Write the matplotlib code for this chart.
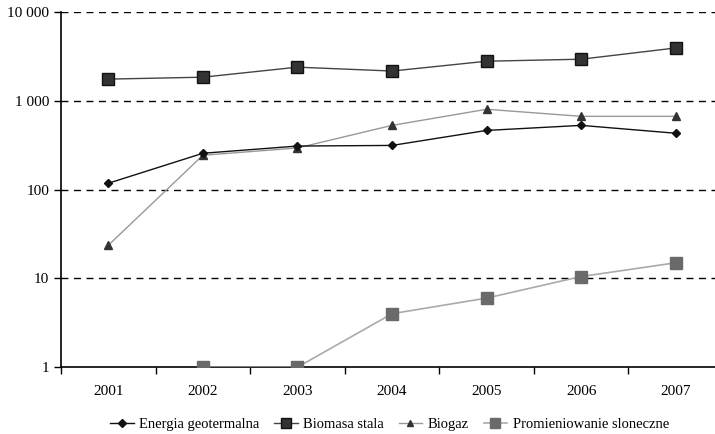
import numpy as np
import matplotlib.pyplot as plt
from matplotlib.ticker import FixedLocator, NullLocator

years = ['2001', '2002', '2003', '2004', '2005', '2006', '2007']
geotermalna = [118, 257, 310, 315, 465, 530, 432]
biomasa = [1760, 1850, 2400, 2170, 2800, 2950, 3950]
biogaz = [23.6, 244, 295, 530, 805, 670, 670]
slonce_lata = ['2002', '2003', '2004', '2005', '2006', '2007']
slonce = [1, 1, 4, 6, 10.5, 15]

ytick_vals = [1, 10, 100, 1000, 10000]
ytick_labels = ['1', '10', '100', '1 000', '10 000']

plt.rcParams['font.family'] = ['Liberation Serif', 'DejaVu Serif']

fig = plt.figure(figsize=(7.15, 4.34), dpi=100)
ax = fig.add_axes([0.0853, 0.154, 0.926, 0.818])

x = np.arange(1, len(years) + 1)
xs = np.array([years.index(y) + 1 for y in slonce_lata])

ax.plot(x, geotermalna, color='#111111', lw=1.0, marker='D', ms=4.5,
        mfc='#111111', mec='#111111', label='Energia geotermalna', zorder=4)
ax.plot(x, biomasa, color='#444444', lw=1.0, marker='s', ms=9,
        mfc='#333333', mec='#111111', label='Biomasa stala', zorder=3)
ax.plot(x, biogaz, color='#999999', lw=1.0, marker='^', ms=5.5,
        mfc='#333333', mec='#333333', label='Biogaz', zorder=3)
ax.plot(xs, slonce, color='#aaaaaa', lw=1.2, marker='s', ms=9,
        mfc='#6a6a6a', mec='#6a6a6a', label='Promieniowanie sloneczne', zorder=3)

ax.set_yscale('log')
ax.set_ylim(1, 10000)
ax.set_xlim(0.5, 7.5)
ax.yaxis.set_major_locator(FixedLocator(ytick_vals))
ax.yaxis.set_minor_locator(NullLocator())
ax.set_yticklabels(ytick_labels)
ax.set_xticks(x)
ax.set_xticklabels(years)
ax.xaxis.set_minor_locator(FixedLocator(np.arange(0.5, 8, 1)))
ax.tick_params(axis='x', which='major', length=0, pad=13, labelsize=11)
ax.tick_params(axis='x', which='minor', length=5, width=1)
ax.tick_params(axis='y', length=5, width=1, labelsize=11)

for v in ytick_vals[1:]:
    ax.axhline(v, color='black', lw=1.0, ls=(0, (5, 4)), zorder=1)

ax.spines['top'].set_visible(False)
ax.spines['right'].set_visible(False)
ax.spines['left'].set_linewidth(1.2)
ax.spines['bottom'].set_linewidth(1.2)

fig.legend(loc='center', bbox_to_anchor=(0.545, 0.023), ncol=4, frameon=False,
           fontsize=10.5, handlelength=1.6, columnspacing=1.0, handletextpad=0.4,
           markerscale=0.85)

fig.savefig('out.png', dpi=100)
